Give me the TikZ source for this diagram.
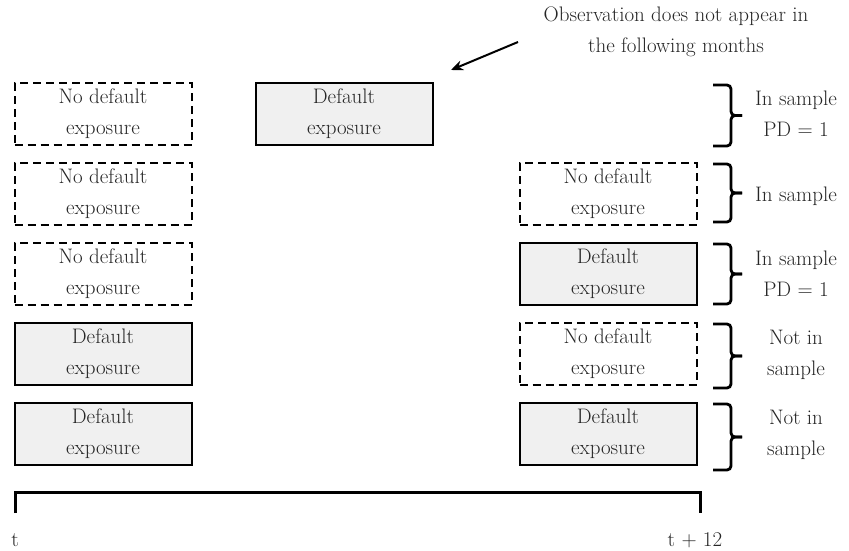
\documentclass[tikz,border=0pt]{standalone}
\usetikzlibrary{arrows.meta}
\begin{document}
\begin{tikzpicture}[x=1pt,y=-1pt,
  txt/.style={text=black!85,font=\fontsize{21}{31}\selectfont,align=center,inner sep=0pt},
  box/.style={txt,minimum width=177pt,minimum height=62pt,line width=2pt},
  nodef/.style={box,draw,dash pattern=on 8pt off 5pt},
  def/.style={box,draw,fill=gray!12},
  brk/.style={line width=2.8pt,rounded corners=4pt},
  axis/.style={line width=3pt}]
\useasboundingbox (0,0) rectangle (849,550);
% left column
\node[nodef] (l1) at (103,114) {No default\\exposure};
\node[nodef] (l2) at (103,194) {No default\\exposure};
\node[nodef] (l3) at (103,274) {No default\\exposure};
\node[def]   (l4) at (103,354) {Default\\exposure};
\node[def]   (l5) at (103,434) {Default\\exposure};
% middle
\node[def] (m1) at (344,114) {Default\\exposure};
% right column
\node[nodef] (r2) at (608,194) {No default\\exposure};
\node[def]   (r3) at (608,274) {Default\\exposure};
\node[nodef] (r4) at (608,354) {No default\\exposure};
\node[def]   (r5) at (608,434) {Default\\exposure};
% braces
\coordinate (b1t) at (713,85);  \coordinate (b1b) at (713,146);
\coordinate (b2t) at (713,164); \coordinate (b2b) at (713,222);
\coordinate (b3t) at (713,244); \coordinate (b3b) at (713,304);
\coordinate (b4t) at (713,324); \coordinate (b4b) at (713,388);
\coordinate (b5t) at (713,404); \coordinate (b5b) at (713,470);
\draw[brk] (b1t) -- ++(18,0) -- ++(0,30.5) -- ++(11,0);
\draw[brk] (b1b) -- ++(18,0) -- ++(0,-30.5) -- ++(11,0);
\draw[brk] (b2t) -- ++(18,0) -- ++(0,29) -- ++(11,0);
\draw[brk] (b2b) -- ++(18,0) -- ++(0,-29) -- ++(11,0);
\draw[brk] (b3t) -- ++(18,0) -- ++(0,30) -- ++(11,0);
\draw[brk] (b3b) -- ++(18,0) -- ++(0,-30) -- ++(11,0);
\draw[brk] (b4t) -- ++(18,0) -- ++(0,32) -- ++(11,0);
\draw[brk] (b4b) -- ++(18,0) -- ++(0,-32) -- ++(11,0);
\draw[brk] (b5t) -- ++(18,0) -- ++(0,33) -- ++(11,0);
\draw[brk] (b5b) -- ++(18,0) -- ++(0,-33) -- ++(11,0);
\node[txt] (s1) at (796,114) {In sample\\PD = 1};
\node[txt] (s2) at (796,196) {In sample};
\node[txt] (s3) at (796,274) {In sample\\PD = 1};
\node[txt] (s4) at (796,355) {Not in\\sample};
\node[txt] (s5) at (796,435) {Not in\\sample};
% annotation
\node[txt] (ann) at (676,32) {Observation does not appear in\\the following months};
\coordinate (a1) at (518,42);
\coordinate (a2) at (451,70);
\draw[line width=2pt,-{Stealth[length=12pt,width=10pt]}] (a1) -- (a2);
% time axis
\coordinate (axL) at (15,492);
\coordinate (axR) at (700,492);
\coordinate (axLd) at (15,513);
\coordinate (axRd) at (700,513);
\draw[axis] (axLd) -- (axL) -- (axR) -- (axRd);
\node[txt] (t0) at (15,540) {t};
\node[txt] (t12) at (695,540) {t + 12};
\end{tikzpicture}
\end{document}
